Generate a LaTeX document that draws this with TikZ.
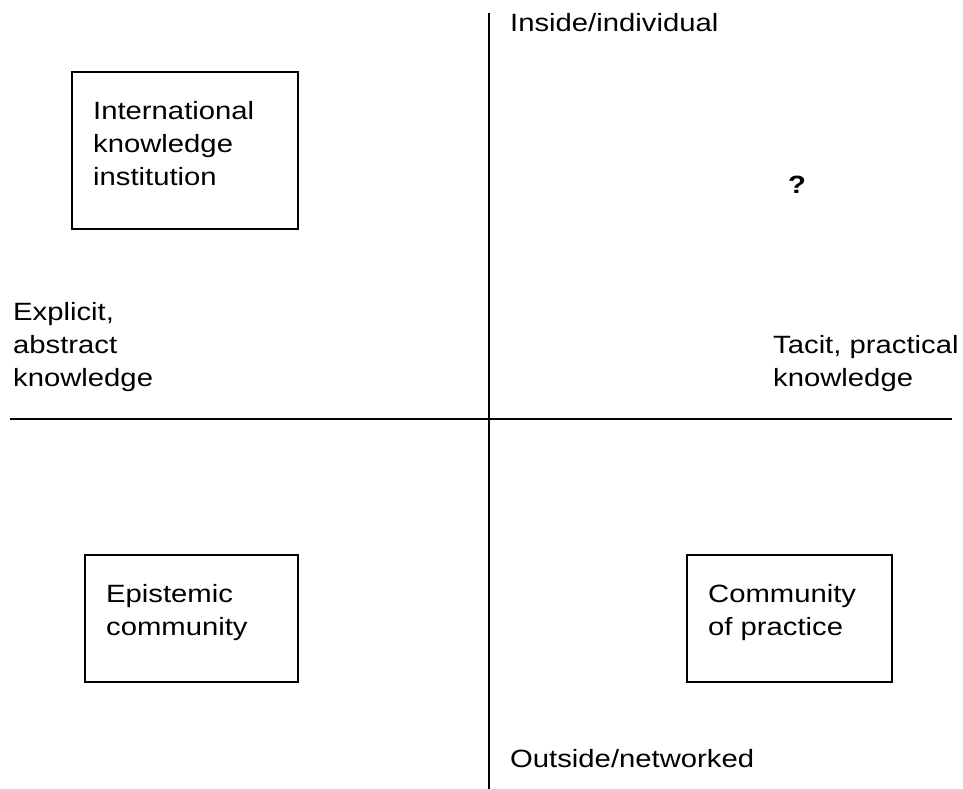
\documentclass[tikz,border=0pt]{standalone}
\usepackage{fontspec}
\setmainfont{Liberation Sans}[FakeStretch=1.17]
\usetikzlibrary{positioning}

\tikzset{
  quad/.style={draw,line width=1.8pt,inner sep=0pt,anchor=north west},
  lbl/.style={inner sep=0pt,align=left},
  axis/.style={line width=1.5pt},
}

\begin{document}
\begin{tikzpicture}[font=\fontsize{25}{33}\selectfont]
\begin{scope}[x=1pt,y=-1pt]
  \useasboundingbox (0,0) rectangle (963,789);
  % the two axes
  \coordinate (top) at (489,13);
  \coordinate (bot) at (489,789);
  \coordinate (lft) at (10,419);
  \coordinate (rgt) at (952,419);
  \draw[axis] (top)--(bot);
  \draw[axis] (lft)--(rgt);
  % boxes in three of the quadrants
  \node[quad,minimum width=226pt,minimum height=157pt] (inst) at (71,71) {};
  \node[lbl,below right=30pt and 22pt of inst.north west] (instT)
    {International\\knowledge\\institution};
  \node[quad,minimum width=213pt,minimum height=127pt] (epi) at (84,554) {};
  \node[lbl,below right=30pt and 22pt of epi.north west] (epiT)
    {Epistemic\\community};
  \node[quad,minimum width=205pt,minimum height=127pt] (cop) at (686,554) {};
  \node[lbl,below right=30pt and 22pt of cop.north west] (copT)
    {Community\\of practice};
  \node[lbl,anchor=base,font=\fontsize{25}{33}\selectfont\bfseries] (unk) at (797,193) {?};
  % axis labels
  \node[lbl,anchor=base west] (inside) at (510,32) {Inside/individual};
  \node[lbl,anchor=base west] (outside) at (510,767) {Outside/networked};
  \node[lbl,anchor=north west] (explicit) at (13,302) {Explicit,\\abstract\\knowledge};
  \node[lbl,anchor=north west] (tacit) at (773,335) {Tacit, practical\\knowledge};
\end{scope}
\end{tikzpicture}
\end{document}
